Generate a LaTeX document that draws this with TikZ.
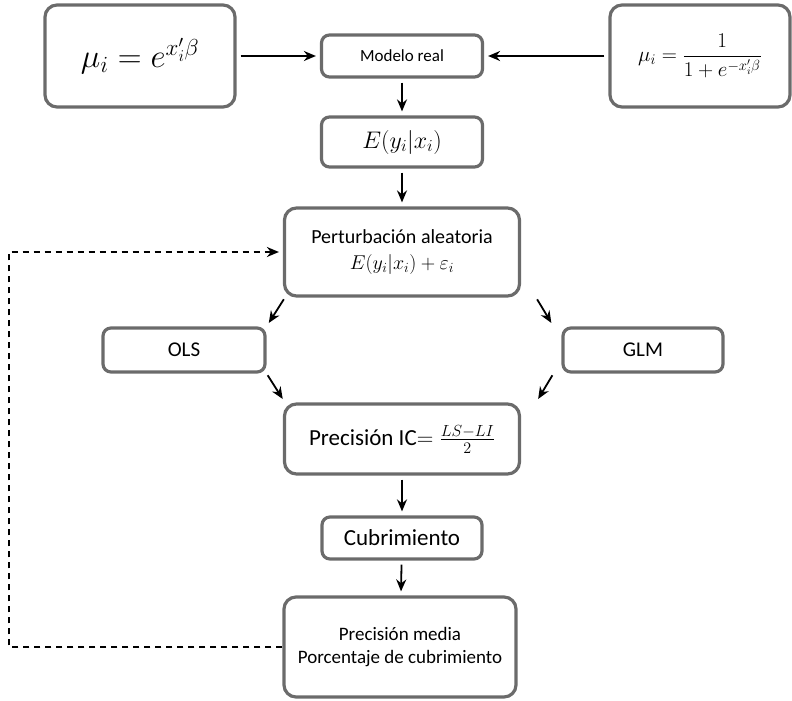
\RequirePackage{fix-cm}
\documentclass[tikz,border=0pt]{standalone}
\usepackage{amsmath,amssymb}
\usepackage{fontspec}
\setmainfont{Carlito}
\usepackage{tikz}
\usetikzlibrary{arrows.meta}

\tikzset{
  caja/.style={draw=black!58, line width=3.2pt, rounded corners=12pt, align=center, inner sep=2pt},
  cajita/.style={caja, rounded corners=8pt},
  flecha/.style={-{Stealth[length=12pt,width=10pt]}, line width=1.8pt, shorten >=4pt, shorten <=4pt},
  retorno/.style={flecha, dashed, dash pattern=on 6pt off 5pt, shorten <=0pt}
}

\begin{document}
\begin{tikzpicture}[x=1pt,y=1pt]
\useasboundingbox (0,0) rectangle (792,-701);
\node[caja, minimum width=190pt, minimum height=102pt, font=\fontsize{33}{38}\selectfont] (mexp) at (140,-56) {$\mu_i = e^{x_i'\beta}$};
\node[cajita, minimum width=161pt, minimum height=42pt, font=\fontsize{17}{20}\selectfont] (modelo) at (402,-56) {Modelo real};
\node[caja, minimum width=180pt, minimum height=102pt, font=\fontsize{21}{24}\selectfont] (mlogit) at (700,-56) {$\mu_i = \dfrac{1}{1+e^{-x_i'\beta}}$};
\node[cajita, minimum width=161pt, minimum height=50pt, font=\fontsize{24}{28}\selectfont] (esp) at (402,-142) {$E(y_i|x_i)$};
\node[caja, minimum width=235pt, minimum height=88pt, font=\fontsize{20}{22}\selectfont] (pert) at (402,-252) {Perturbación aleatoria\\[4pt] $E(y_i|x_i)+\varepsilon_i$};
\node[cajita, minimum width=162pt, minimum height=44pt, font=\fontsize{21}{24}\selectfont] (ols) at (184,-350) {OLS};
\node[cajita, minimum width=160pt, minimum height=44pt, font=\fontsize{21}{24}\selectfont] (glm) at (643,-350) {GLM};
\node[caja, minimum width=235pt, minimum height=70pt, font=\fontsize{23}{26}\selectfont] (prec) at (402,-439) {Precisión IC$=\frac{LS-LI}{2}$};
\node[cajita, minimum width=160pt, minimum height=42pt, font=\fontsize{23}{26}\selectfont] (cub) at (402,-538) {Cubrimiento};
\node[caja, minimum width=232pt, minimum height=100pt, font=\fontsize{19}{23}\selectfont] (final) at (400,-647) {Precisión media\\ Porcentaje de cubrimiento};
\coordinate (vuelta) at (9,0);

\draw[flecha] (mexp) -- (modelo);
\draw[flecha] (mlogit) -- (modelo);
\draw[flecha] (modelo) -- (esp);
\draw[flecha] (esp) -- (pert);
\draw[flecha, shorten <=2pt, shorten >=4pt] ([xshift=2pt]pert.south west) -- (ols.north east);
\draw[flecha, shorten <=2pt, shorten >=4pt] (ols.south east) -- ([xshift=2pt]prec.north west);
\draw[flecha, shorten <=2pt, shorten >=4pt] ([xshift=15pt]pert.south east) -- ([xshift=-8pt]glm.north west);
\draw[flecha, shorten <=2pt, shorten >=4pt] ([xshift=-8pt]glm.south west) -- ([xshift=15pt]prec.north east);
\draw[flecha] (prec) -- (cub);
\draw[flecha] (cub) -- (final);
\draw[retorno] (final.west) -- (final.west -| vuelta) -- (pert.west -| vuelta) -- (pert.west);
\end{tikzpicture}
\end{document}
